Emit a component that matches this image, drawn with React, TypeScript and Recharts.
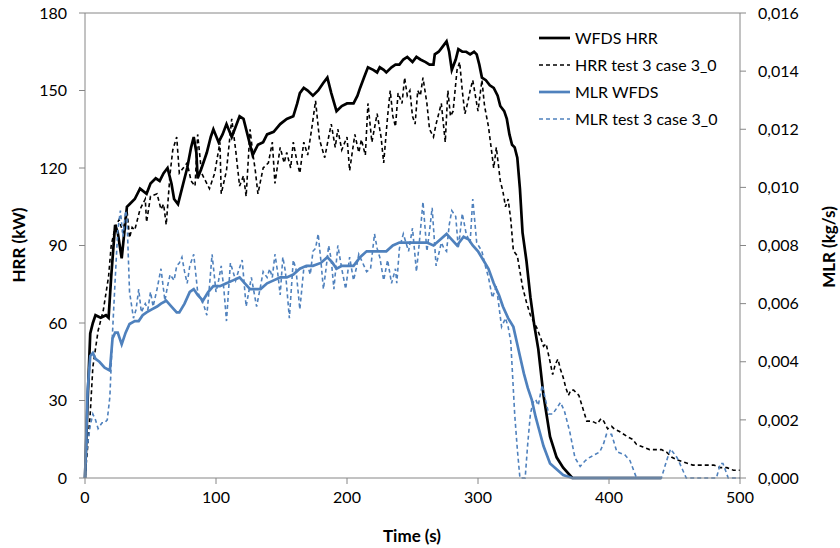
import React from 'react';
import { LineChart, Line, XAxis, YAxis, ReferenceLine } from 'recharts';

type P = [number, number];

const timeTicks = [0, 100, 200, 300, 400, 500];
const hrrTicks = [0, 30, 60, 90, 120, 150, 180];
const mlrTicks = [0, 0.002, 0.004, 0.006, 0.008, 0.01, 0.012, 0.014, 0.016];

const seriesNames = ['WFDS HRR', 'HRR test 3 case 3_0', 'MLR WFDS', 'MLR test 3 case 3_0'];

const wfdsHrr: P[] = [[0,0],[2,30],[4,56],[6,60],[8,63],[12,62],[16,63],[18,62],[20,78],[23,98],[25,95],[28,85],[30,95],[32,105],[34,106],[38,108],[42,112],[47,110],[50,114],[54,116],[57,115],[60,118],[63,120],[66,114],[68,108],[71,106],[74,112],[78,120],[81,128],[83,132],[85,126],[86,116],[89,120],[93,126],[96,132],[98,135],[102,130],[105,133],[108,137],[112,132],[115,136],[118,140],[121,139],[124,133],[128,125],[132,129],[136,130],[139,133],[144,134],[149,137],[154,139],[159,140],[162,145],[164,149],[167,151],[170,150],[174,148],[178,150],[182,153],[185,155],[188,149],[192,142],[196,144],[200,145],[205,145],[208,148],[210,151],[213,155],[216,159],[220,158],[223,157],[225,159],[228,158],[230,157],[234,159],[237,160],[240,160],[243,162],[246,163],[250,161],[253,163],[256,162],[260,161],[263,160],[266,160],[267,164],[270,165],[273,167],[276,169],[278,165],[280,158],[283,162],[285,166],[288,165],[291,165],[294,164],[297,165],[299,164],[301,160],[303,155],[306,154],[309,152],[312,151],[315,148],[317,144],[320,142],[322,139],[324,133],[326,129],[328,128],[330,124],[332,112],[334,95],[337,84],[340,70],[343,59],[346,50],[350,32],[355,16],[360,8],[365,4],[372,0],[440,0]];

const hrrTest: P[] = [[0,0],[2,12],[4,25],[6,43],[8,50],[10,57],[14,65],[18,78],[20,90],[23,97],[26,100],[29,95],[32,104],[34,93],[36,97],[38,96],[42,104],[46,108],[47,99],[50,109],[55,110],[58,104],[60,106],[62,98],[65,118],[67,127],[70,132],[72,118],[75,120],[78,122],[81,115],[84,113],[86,133],[89,118],[92,115],[95,112],[99,118],[103,130],[104,110],[108,119],[112,139],[115,127],[118,113],[121,117],[123,109],[126,135],[128,126],[130,119],[132,110],[136,120],[140,122],[143,130],[145,114],[149,128],[152,122],[154,126],[157,120],[159,130],[162,122],[164,118],[167,130],[170,125],[173,135],[176,146],[179,131],[183,124],[186,132],[188,137],[191,128],[193,135],[196,127],[200,132],[202,119],[206,133],[209,126],[211,131],[214,125],[216,145],[219,130],[223,141],[226,132],[228,122],[231,140],[233,150],[235,140],[237,136],[239,149],[242,145],[244,155],[246,148],[248,150],[250,140],[252,137],[254,150],[256,148],[258,155],[261,145],[263,135],[266,132],[268,137],[272,145],[275,130],[277,150],[279,140],[281,142],[284,158],[286,161],[288,150],[290,141],[292,145],[294,150],[296,154],[298,148],[300,142],[303,154],[305,144],[308,136],[310,128],[312,120],[314,128],[317,115],[319,111],[321,105],[323,108],[325,100],[327,88],[330,86],[332,80],[334,74],[337,68],[340,63],[343,60],[345,58],[348,54],[350,51],[352,52],[355,45],[357,40],[359,44],[361,46],[363,42],[365,39],[367,35],[369,32],[371,34],[373,34],[375,33],[377,32],[380,27],[383,22],[387,22],[391,21],[394,23],[396,22],[399,19],[402,20],[404,19],[408,18],[414,16],[418,15],[421,13],[426,12],[431,11],[436,11],[440,11],[444,10],[448,8],[452,7],[458,6],[464,5],[470,5],[476,5],[480,5],[485,4],[490,4],[495,3],[500,3]];

const mlrWfds: P[] = [[0,0],[2,0.003],[4,0.0042],[6,0.0043],[8,0.0041],[11,0.004],[15,0.0038],[19,0.0037],[21,0.0048],[23,0.005],[25,0.005],[28,0.0046],[31,0.005],[34,0.0053],[38,0.0054],[41,0.0054],[44,0.0056],[47,0.0057],[51,0.0058],[55,0.0059],[58,0.006],[62,0.0061],[66,0.0059],[70,0.0057],[72,0.0057],[76,0.006],[80,0.0064],[83,0.0065],[86,0.0063],[90,0.0061],[94,0.0064],[98,0.0066],[103,0.0066],[108,0.0067],[113,0.0068],[118,0.0069],[122,0.0067],[126,0.0065],[130,0.0065],[134,0.0065],[139,0.0067],[144,0.0068],[149,0.0069],[154,0.0069],[159,0.007],[164,0.0072],[169,0.0073],[174,0.0073],[180,0.0074],[185,0.0076],[189,0.0074],[192,0.0072],[196,0.0073],[200,0.0073],[205,0.0073],[210,0.0076],[215,0.0078],[220,0.0078],[225,0.0078],[230,0.0078],[235,0.008],[240,0.0081],[245,0.0081],[250,0.0081],[256,0.0081],[261,0.0081],[266,0.008],[271,0.0082],[276,0.0084],[280,0.0082],[284,0.008],[289,0.0083],[293,0.0082],[296,0.008],[300,0.0078],[304,0.0075],[308,0.0072],[312,0.0067],[316,0.0063],[319,0.0059],[323,0.0055],[327,0.0052],[330,0.0046],[332,0.0042],[335,0.0036],[338,0.0031],[341,0.0027],[344,0.0021],[347,0.0016],[350,0.0011],[355,0.0005],[360,0.0003],[365,0.0001],[372,0],[440,0]];

const mlrTest: P[] = [[0,0],[1.5,0.001],[4,0.0018],[6,0.0022],[8,0.002],[10,0.0017],[13,0.0019],[15,0.0019],[17,0.002],[19,0.0028],[21,0.005],[23,0.0068],[25,0.0085],[27,0.0092],[29,0.0083],[31,0.0092],[32,0.009],[34,0.0064],[37,0.0055],[39,0.0058],[41,0.0065],[43,0.0057],[46,0.006],[48,0.0058],[50,0.0064],[52,0.0059],[55,0.0065],[58,0.0072],[61,0.0061],[63,0.0066],[65,0.007],[68,0.0068],[70,0.0073],[72,0.0074],[74,0.0076],[76,0.0071],[78,0.0067],[80,0.0073],[83,0.0077],[86,0.0064],[88,0.0062],[91,0.0059],[93,0.0056],[95,0.0066],[97,0.0077],[100,0.0064],[102,0.0068],[104,0.0073],[106,0.0065],[108,0.0054],[111,0.0074],[113,0.0071],[115,0.0068],[117,0.0071],[120,0.0075],[123,0.0059],[125,0.0064],[127,0.0069],[129,0.0064],[131,0.0059],[134,0.0066],[136,0.0071],[139,0.0069],[141,0.0072],[143,0.0069],[145,0.0077],[147,0.0071],[149,0.0063],[151,0.0076],[153,0.0071],[156,0.0055],[159,0.0075],[161,0.0072],[164,0.0058],[167,0.0072],[170,0.0073],[172,0.007],[174,0.0078],[176,0.0079],[178,0.0084],[180,0.0075],[182,0.0065],[184,0.0072],[186,0.008],[188,0.0075],[190,0.0065],[193,0.008],[196,0.0072],[199,0.0065],[202,0.0076],[205,0.0068],[207,0.0072],[209,0.0077],[212,0.0074],[215,0.0071],[218,0.0072],[221,0.0084],[223,0.0079],[225,0.0076],[228,0.0068],[231,0.0075],[234,0.0067],[237,0.0072],[238,0.0067],[240,0.0079],[243,0.0084],[245,0.0081],[247,0.0078],[250,0.0086],[253,0.0071],[255,0.008],[258,0.0095],[261,0.0078],[263,0.0085],[265,0.0093],[268,0.0073],[270,0.0077],[272,0.0081],[274,0.0079],[276,0.0078],[278,0.0087],[280,0.0092],[283,0.009],[285,0.0079],[288,0.0091],[291,0.0084],[294,0.0081],[296,0.0096],[299,0.0081],[303,0.0078],[305,0.0074],[308,0.0069],[311,0.0062],[314,0.0066],[318,0.0052],[321,0.0055],[323,0.0052],[325,0.0047],[328,0.0022],[330,0.001],[332,0],[336,0],[338,0.0012],[340,0.0022],[342,0.0026],[344,0.0027],[346,0.0025],[349,0.0032],[351,0.0028],[354,0.0022],[357,0.0022],[360,0.0024],[363,0.0026],[366,0.0023],[370,0.0016],[374,0.0007],[378,0.0004],[382,0.0006],[385,0.0007],[389,0.0008],[393,0.0009],[396,0.0012],[398,0.0015],[402,0.0015],[406,0.0009],[412,0.0008],[416,0.0006],[421,0],[440,0],[444,0.0006],[447,0.001],[452,0.0007],[456,0.0003],[459,0],[482,0],[485,0.0005],[487,0.0005],[491,0],[500,0]];

const toRows = (arr: P[]) => arr.map(([t, v]) => ({ t, v }));

const FONT = 'Lato, "Open Sans", sans-serif';
const AXIS = '#868686';
const BLUE = '#4F81BD';

const styles = [
  { color: '#000000', width: 2.7, dash: undefined as string | undefined },
  { color: '#000000', width: 1.6, dash: '4 3' },
  { color: BLUE, width: 2.7, dash: undefined as string | undefined },
  { color: BLUE, width: 1.6, dash: '4 3' },
];

const tickStyle = { fontSize: 16, fill: '#000', fontFamily: FONT };

const AxisTitle = (x: number, y: number, text: string) => () => (
  <text
    x={x}
    y={y}
    transform={`rotate(-90, ${x}, ${y})`}
    textAnchor="middle"
    dominantBaseline="central"
    style={{ fontFamily: FONT, fontSize: 17, fontWeight: 700, fill: '#000' }}
  >
    {text}
  </text>
);

const XTitle = () => (
  <text
    x={412}
    y={535}
    textAnchor="middle"
    dominantBaseline="central"
    style={{ fontFamily: FONT, fontSize: 17, fontWeight: 700, fill: '#000' }}
  >
    Time (s)
  </text>
);

export default function App() {
  const sets = [toRows(wfdsHrr), toRows(hrrTest), toRows(mlrWfds), toRows(mlrTest)];
  const axisIds = ['left', 'left', 'right', 'right'];
  return (
    <div style={{ position: 'absolute', left: 0, top: 0, width: 840, height: 548, background: '#fff' }}>
      <LineChart width={840} height={548} margin={{ top: 13, right: 0, left: 0, bottom: 0 }}>
        <XAxis
          dataKey="t"
          type="number"
          domain={[0, 500]}
          ticks={timeTicks}
          allowDuplicatedCategory={false}
          height={70}
          stroke={AXIS}
          tickSize={6}
          tickMargin={8}
          tick={tickStyle}
          label={{ content: XTitle }}
        />
        <YAxis
          yAxisId="left"
          type="number"
          domain={[0, 180]}
          ticks={hrrTicks}
          width={85}
          stroke={AXIS}
          tickSize={6}
          tickMargin={12}
          tick={tickStyle}
          label={{ content: AxisTitle(18, 245, 'HRR (kW)') }}
        />
        <YAxis
          yAxisId="right"
          orientation="right"
          type="number"
          domain={[0, 0.016]}
          ticks={mlrTicks}
          width={100}
          stroke={AXIS}
          tickSize={6}
          tickMargin={12}
          tick={tickStyle}
          tickFormatter={(v: number) => v.toFixed(3).replace('.', ',')}
          label={{ content: AxisTitle(828, 247, 'MLR (kg/s)') }}
        />
        <ReferenceLine yAxisId="left" y={180} stroke={AXIS} strokeWidth={1} />
        {sets.map((d, i) => (
          <Line
            key={seriesNames[i]}
            name={seriesNames[i]}
            yAxisId={axisIds[i]}
            data={d}
            dataKey="v"
            type="linear"
            stroke={styles[i].color}
            strokeWidth={styles[i].width}
            strokeDasharray={styles[i].dash}
            dot={false}
            activeDot={false}
            isAnimationActive={false}
          />
        ))}
      </LineChart>
      <div style={{ position: 'absolute', left: 536, top: 24, fontFamily: FONT, fontSize: 16, color: '#000' }}>
        {seriesNames.map((n, i) => (
          <div key={n} style={{ display: 'flex', alignItems: 'center', height: 27 }}>
            <svg width={39} height={10} style={{ display: 'block' }}>
              <line
                x1={3}
                x2={34}
                y1={5}
                y2={5}
                stroke={styles[i].color}
                strokeWidth={styles[i].width}
                strokeDasharray={styles[i].dash}
              />
            </svg>
            <span style={{ whiteSpace: 'nowrap' }}>{n}</span>
          </div>
        ))}
      </div>
    </div>
  );
}
